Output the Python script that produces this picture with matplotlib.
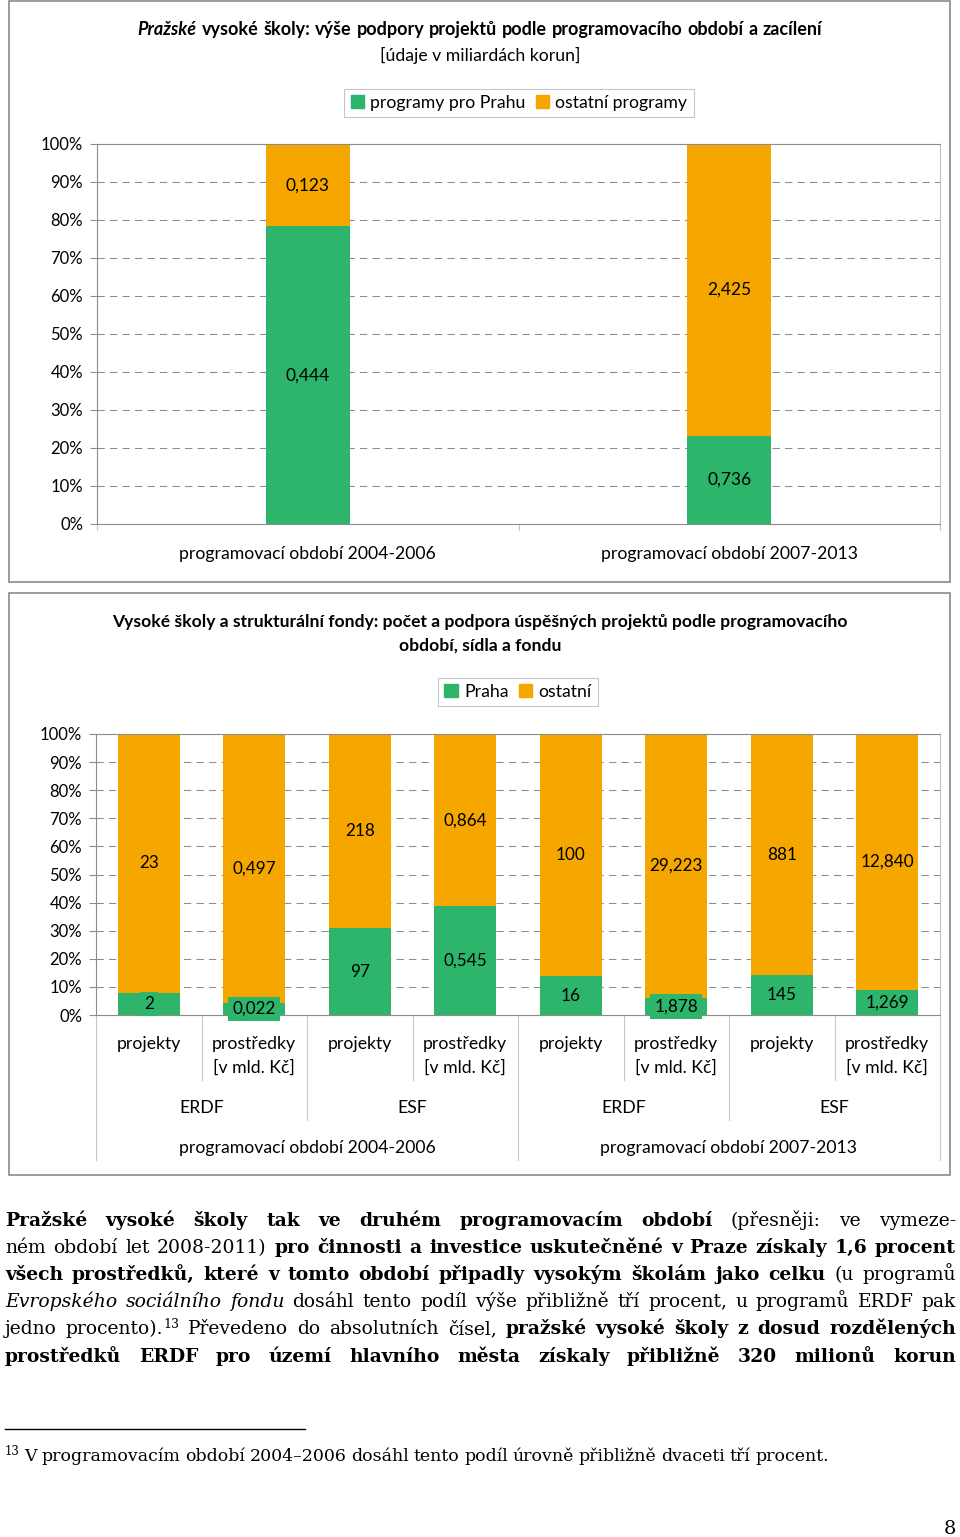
import matplotlib

matplotlib.use("Agg")
import matplotlib.pyplot as plt
import numpy as np
from matplotlib.lines import Line2D
from matplotlib.patches import Patch, Rectangle

W, H = 960, 1537
GREEN = "#2cb56b"
ORANGE = "#f5a700"
GRID = "#8c8c8c"
FRAME = "#8a8a8a"
SANS = ["Lato", "DejaVu Sans"]
SERIF = ["DejaVu Serif", "Liberation Serif"]
TICK_FS = 12

# --- chart 1: Prague universities, support by period [bn CZK]
periods = ["programovací období 2004-2006", "programovací období 2007-2013"]
praha_bn = [0.444, 0.736]
other_bn = [0.123, 2.425]
legend1 = ["programy pro Prahu", "ostatní programy"]

# --- chart 2: universities and structural funds
measures = ["projekty", "prostředky\n[v mld. Kč]"] * 4
funds = ["ERDF", "ESF", "ERDF", "ESF"]
praha_vals = [2, 0.022, 97, 0.545, 16, 1.878, 145, 1.269]
other_vals = [23, 0.497, 218, 0.864, 100, 29.223, 881, 12.840]
legend2 = ["Praha", "ostatní"]

# --- body text (runs of text + style)
body = [
    [("Pražské vysoké školy tak ve druhém programovacím období", "b"),
     (" (přesněji: ve vymeze-", "r")],
    [("ném období let 2008-2011)", "r"),
     (" pro činnosti a investice uskutečněné v Praze získaly 1,6 procent", "b")],
    [("všech prostředků, které v tomto období připadly vysokým školám jako celku", "b"),
     (" (u programů", "r")],
    [("Evropského sociálního fondu", "i"),
     (" dosáhl tento podíl výše přibližně tří procent, u programů ERDF pak", "r")],
    [("jedno procento).", "r"), ("13", "sup"), (" Převedeno do absolutních čísel,", "r"),
     (" pražské vysoké školy z dosud rozdělených", "b")],
    [("prostředků ERDF pro území hlavního města získaly přibližně 320 milionů korun", "b")],
]
footnote = [("13", "fsup"),
            (" V programovacím období 2004–2006 dosáhl tento podíl úrovně přibližně dvaceti tří procent.", "f")]

STY = {
    "sup": dict(family=SERIF, fontsize=9),
    "fsup": dict(family=SERIF, fontsize=8.5),
    "tb": dict(family=SANS, fontsize=13, weight="bold"),
    "tbi": dict(family=SANS, fontsize=13, weight="bold", style="italic"),
}
RAISE = {"sup": 6, "fsup": 6}


def set_body_size(size):
    STY["r"] = dict(family=SERIF, fontsize=size)
    STY["b"] = dict(family=SERIF, fontsize=size, weight="bold")
    STY["i"] = dict(family=SERIF, fontsize=size, style="italic")


def fx(x):
    return x / W


def fy(y):
    return 1 - y / H


fig = plt.figure(figsize=(W / 100, H / 100), dpi=100)
renderer = fig.canvas.get_renderer()


def measure(s, st):
    t = fig.text(0, 0, s, **STY[st])
    w = t.get_window_extent(renderer).width
    t.remove()
    return w


def to_words(runs):
    words = [[]]
    for text, st in runs:
        for k, part in enumerate(text.split(" ")):
            if k > 0:
                words.append([])
            if part:
                words[-1].append((part, st))
    return [w for w in words if w]


def natural_width(runs, gap):
    words = to_words(runs)
    return sum(measure(s, st) for w in words for s, st in w) + gap * (len(words) - 1)


def draw_runs(runs, y, x0, x1=None, mode="left"):
    words = to_words(runs)
    widths = [[measure(s, st) for s, st in w] for w in words]
    totals = [sum(ws) for ws in widths]
    space = 0.27 * STY[words[-1][-1][1]]["fontsize"] * 100 / 72
    if mode == "justify" and len(words) > 1:
        gap = (x1 - x0 - sum(totals)) / (len(words) - 1)
    else:
        gap = space
    if mode == "center":
        full = sum(totals) + gap * (len(words) - 1)
        x0 = x0 - full / 2
    x = x0
    for w, ws in zip(words, widths):
        for (s, st), sw in zip(w, ws):
            fig.text(fx(x), fy(y - RAISE.get(st, 0)), s, ha="left", va="baseline", **STY[st])
            x += sw
        x += gap


def frame(x0, y0, x1, y1):
    fig.patches.append(Rectangle((fx(x0), fy(y1)), (x1 - x0) / W, (y1 - y0) / H,
                                 transform=fig.transFigure, fill=False,
                                 edgecolor=FRAME, lw=1.2))


def style_axes(ax, ncat):
    ax.set_xlim(-0.5, ncat - 0.5)
    ax.set_ylim(0, 1)
    ticks = np.arange(0, 1.001, 0.1)
    ax.set_yticks(ticks)
    ax.set_yticklabels([f"{int(round(t * 100))}%" for t in ticks], family=SANS, fontsize=TICK_FS)
    ax.set_xticks([])
    for t in ticks[1:-1]:
        ax.axhline(t, color=GRID, lw=0.75, ls=(0, (7, 5)), zorder=0)
    ax.tick_params(axis="y", length=5, color=GRID, pad=5)
    for side in ["left", "bottom", "top"]:
        ax.spines[side].set_color(GRID)
    ax.spines["right"].set_color("#c0c0c0")
    ax.set_axisbelow(True)


def px_to_axes(ax_top, ax_bot, y):
    return (ax_bot - y) / (ax_bot - ax_top)


# ===================== chart 1 =====================
frame(9, 1, 950, 582)
draw_runs([("Pražské", "tbi"), (" vysoké školy: výše podpory projektů podle programovacího období a zacílení", "tb")],
          35, 480, mode="center")
fig.text(fx(480), fy(55), "[údaje v miliardách korun]", ha="center", va="center",
         family=SANS, fontsize=12.7)

A1_TOP, A1_BOT = 144, 524
ax1 = fig.add_axes([fx(97), fy(A1_BOT), (940 - 97) / W, (A1_BOT - A1_TOP) / H])
style_axes(ax1, 2)
x1 = np.arange(len(periods))
share1 = np.array(praha_bn) / (np.array(praha_bn) + np.array(other_bn))
ax1.bar(x1, share1, width=0.2, color=GREEN, zorder=2)
ax1.bar(x1, 1 - share1, bottom=share1, width=0.2, color=ORANGE, zorder=2)
for xi, s, p, o in zip(x1, share1, praha_bn, other_bn):
    ax1.text(xi, s / 2, f"{p:.3f}".replace(".", ","), ha="center", va="center",
             family=SANS, fontsize=12.5, zorder=3)
    ax1.text(xi, (1 + s) / 2, f"{o:.3f}".replace(".", ","), ha="center", va="center",
             family=SANS, fontsize=12.5, zorder=3)
    ax1.text(xi, px_to_axes(A1_TOP, A1_BOT, 554), periods[xi], ha="center", va="center",
             family=SANS, fontsize=12.7, transform=ax1.get_xaxis_transform())
tr1 = ax1.get_xaxis_transform()
for b in [-0.5, 0.5, 1.5]:
    ax1.add_line(Line2D([b, b], [0, px_to_axes(A1_TOP, A1_BOT, 530)], transform=tr1,
                        color="#c8c8c8", lw=0.8, clip_on=False))

leg1 = fig.legend([Patch(color=GREEN), Patch(color=ORANGE)], legend1, loc="center",
                  bbox_to_anchor=(fx(519), fy(103)), ncol=2, frameon=True, fancybox=False,
                  edgecolor="#b8b8b8", handlelength=0.75, handleheight=0.75,
                  handletextpad=0.35, columnspacing=0.6, borderpad=0.35,
                  prop=dict(family=SANS, size=12.7))
leg1.get_frame().set_linewidth(0.8)

# ===================== chart 2 =====================
frame(9, 593, 950, 1175)
fig.text(fx(480), fy(622), "Vysoké školy a strukturální fondy: počet a podpora úspěšných projektů podle programovacího",
         ha="center", va="center", family=SANS, fontsize=12.6, weight="bold")
fig.text(fx(480), fy(646), "období, sídla a fondu", ha="center", va="center",
         family=SANS, fontsize=12.6, weight="bold")

A2_TOP, A2_BOT = 734, 1015
ax2 = fig.add_axes([fx(96), fy(A2_BOT), (940 - 96) / W, (A2_BOT - A2_TOP) / H])
style_axes(ax2, len(measures))
x2 = np.arange(len(measures))
pv = np.array(praha_vals)
ov = np.array(other_vals)
share2 = pv / (pv + ov)
ax2.bar(x2, share2, width=0.59, color=GREEN, zorder=2)
ax2.bar(x2, 1 - share2, bottom=share2, width=0.59, color=ORANGE, zorder=2)


def fmt(v, m):
    return f"{v:.0f}" if m == "projekty" else f"{v:.3f}".replace(".", ",")


tr2 = ax2.get_xaxis_transform()
for xi in x2:
    m = measures[xi]
    s = share2[xi]
    ax2.text(xi, s / 2, fmt(pv[xi], m), ha="center", va="center", family=SANS, fontsize=12.3,
             zorder=4, bbox=dict(facecolor=GREEN, edgecolor="none", pad=3))
    ax2.text(xi, (1 + s) / 2, fmt(ov[xi], m), ha="center", va="center", family=SANS,
             fontsize=12.3, zorder=4)
    for k, line in enumerate(m.split("\n")):
        ax2.text(xi, px_to_axes(A2_TOP, A2_BOT, 1044 + 24 * k), line, ha="center", va="center",
                 family=SANS, fontsize=12.7, transform=tr2)
for j, f in enumerate(funds):
    ax2.text(2 * j + 0.5, px_to_axes(A2_TOP, A2_BOT, 1108), f, ha="center", va="center",
             family=SANS, fontsize=12.7, transform=tr2)
for j, per in enumerate(periods):
    ax2.text(4 * j + 1.5, px_to_axes(A2_TOP, A2_BOT, 1148), per, ha="center", va="center",
             family=SANS, fontsize=12.7, transform=tr2)
for b in np.arange(-0.5, len(measures), 1.0):
    idx = int(b + 0.5)
    if idx % 4 == 0:
        end = 1160
    elif idx % 2 == 0:
        end = 1120
    else:
        end = 1080
    ax2.add_line(Line2D([b, b], [0, px_to_axes(A2_TOP, A2_BOT, end)], transform=tr2,
                        color="#c8c8c8", lw=0.8, clip_on=False))

leg2 = fig.legend([Patch(color=GREEN), Patch(color=ORANGE)], legend2, loc="center",
                  bbox_to_anchor=(fx(518), fy(692)), ncol=2, frameon=True, fancybox=False,
                  edgecolor="#b8b8b8", handlelength=0.75, handleheight=0.75,
                  handletextpad=0.35, columnspacing=0.6, borderpad=0.35,
                  prop=dict(family=SANS, size=12.7))
leg2.get_frame().set_linewidth(0.8)

# ===================== text =====================
# largest body size (up to 13.5 pt) where every justified line keeps a visible gap
body_size = 13.5
set_body_size(body_size)
while max(natural_width(r, 4) for r in body) > 951 and body_size > 10:
    body_size -= 0.25
    set_body_size(body_size)

for k, runs in enumerate(body):
    draw_runs(runs, 1226 + 27.1 * k, 5, 956, mode="justify")

fig.add_artist(Line2D([fx(5), fx(305)], [fy(1429), fy(1429)], color="black", lw=1))
STY["f"] = dict(family=SERIF, fontsize=12)
fw = natural_width(footnote, 0.27 * 12 * 100 / 72)
STY["f"] = dict(family=SERIF, fontsize=min(12.5, 12 * 850 / fw))
draw_runs(footnote, 1461, 5, mode="left")
fig.text(fx(956), fy(1534), "8", ha="right", va="baseline", family=SERIF, fontsize=14)

fig.savefig("out.png", dpi=100)
